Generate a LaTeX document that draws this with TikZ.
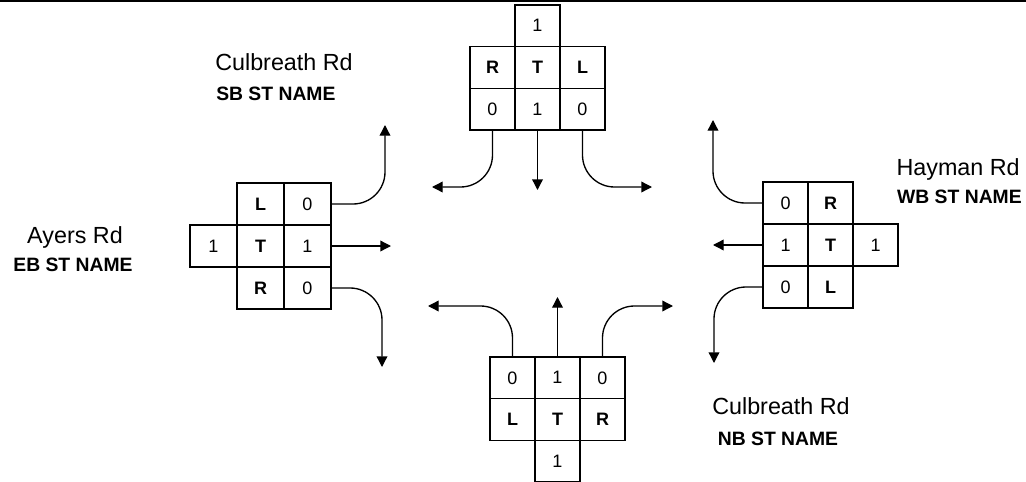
\documentclass[tikz,border=0pt]{standalone}
\usepackage{fontspec}
\setmainfont{Liberation Sans}
\usetikzlibrary{arrows.meta}
\begin{document}
\begin{tikzpicture}[x=0.75pt,y=-0.75pt,
  cell/.style={draw, line width=1pt, minimum width=33.75pt, minimum height=31.3pt,
    inner sep=0pt, font=\fontsize{13.5}{16}\selectfont},
  widecell/.style={cell, minimum width=35.25pt},
  key/.style={font=\fontsize{13.5}{16}\selectfont\bfseries},
  flow/.style={line width=1pt, -{Triangle[length=8pt,width=8pt]}, rounded corners=24pt},
  road/.style={inner sep=0pt, font=\fontsize{17.5}{20}\selectfont},
  dir/.style={inner sep=0pt, font=\fontsize{14.5}{17}\selectfont\bfseries}]
\useasboundingbox (0,0) rectangle (1026,482);

% rule along the top edge
\draw[line width=1.2pt] (0,0.8) -- (1026,0.8);

% ---- southbound approach (top)
\node[cell] (sb1) at (537.5,25.8) {1};
\node[cell,key] (sbR) at (492.5,67.5) {R};
\node[cell,key] (sbT) at (537.5,67.5) {T};
\node[cell,key] (sbL) at (582.5,67.5) {L};
\node[cell] (sbR0) at (492.5,109.2) {0};
\node[cell] (sbT1) at (537.5,109.2) {1};
\node[cell] (sbL0) at (582.5,109.2) {0};
\coordinate (sbRend) at (432,187);
\coordinate (sbTend) at (537.5,190);
\coordinate (sbLend) at (652,187);
\draw[flow] (sbR0.south) |- (sbRend);
\draw[flow] (sbT1.south) -- (sbTend);
\draw[flow] (sbL0.south) |- (sbLend);

% ---- eastbound approach (left)
\node[widecell,key] (ebL) at (260.5,204) {L};
\node[widecell] (ebL0) at (307.5,204) {0};
\node[widecell] (eb1) at (213.5,246) {1};
\node[widecell,key] (ebT) at (260.5,246) {T};
\node[widecell] (ebT1) at (307.5,246) {1};
\node[widecell,key] (ebR) at (260.5,288) {R};
\node[widecell] (ebR0) at (307.5,288) {0};
\coordinate (ebLend) at (385,125);
\coordinate (ebTend) at (391,246);
\coordinate (ebRend) at (382,367);
\draw[flow] (ebL0.east) -| (ebLend);
\draw[flow] (ebT1.east) -- (ebTend);
\draw[flow] (ebR0.east) -| (ebRend);

% ---- westbound approach (right)
\node[cell] (wbR0) at (785.5,203) {0};
\node[cell,key] (wbR) at (830.5,203) {R};
\node[cell] (wbT1) at (785.5,245) {1};
\node[cell,key] (wbT) at (830.5,245) {T};
\node[cell] (wb1) at (875.5,245) {1};
\node[cell] (wbL0) at (785.5,287) {0};
\node[cell,key] (wbL) at (830.5,287) {L};
\coordinate (wbRend) at (713,120);
\coordinate (wbTend) at (713,245);
\coordinate (wbLend) at (714,363);
\draw[flow] (wbR0.west) -| (wbRend);
\draw[flow] (wbT1.west) -- (wbTend);
\draw[flow] (wbL0.west) -| (wbLend);

% ---- northbound approach (bottom)
\node[cell] (nbL0) at (512.5,377.8) {0};
\node[cell] (nbT1) at (557.5,377.8) {1};
\node[cell] (nbR0) at (602.5,377.8) {0};
\node[cell,key] (nbL) at (512.5,419.5) {L};
\node[cell,key] (nbT) at (557.5,419.5) {T};
\node[cell,key] (nbR) at (602.5,419.5) {R};
\node[cell] (nb1) at (557.5,461.2) {1};
\coordinate (nbLend) at (428,306);
\coordinate (nbTend) at (557.5,297);
\coordinate (nbRend) at (673,306);
\draw[flow] (nbL0.north) |- (nbLend);
\draw[flow] (nbT1.north) -- (nbTend);
\draw[flow] (nbR0.north) |- (nbRend);

% ---- street names
\node[road, anchor=base west] (sbroad) at (215,70) {Culbreath Rd};
\node[dir, anchor=base west] (sbdir) at (216,100) {SB ST NAME};
\node[road, anchor=base] (ebroad) at (75,243) {Ayers Rd};
\node[dir, anchor=base] (ebdir) at (73,271) {EB ST NAME};
\node[road, anchor=base east] (wbroad) at (1020,175) {Hayman Rd};
\node[dir, anchor=base east] (wbdir) at (1022,203) {WB ST NAME};
\node[road, anchor=base] (nbroad) at (781,414) {Culbreath Rd};
\node[dir, anchor=base] (nbdir) at (778,445) {NB ST NAME};
\end{tikzpicture}
\end{document}
